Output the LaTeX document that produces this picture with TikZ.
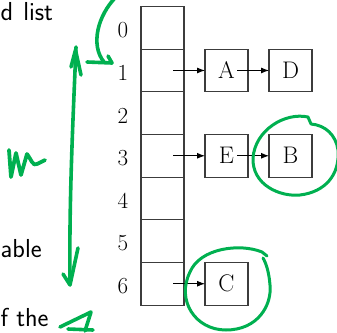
\documentclass[tikz,border=0pt]{standalone}
\usepackage{fontspec}
\usetikzlibrary{arrows.meta}
\definecolor{pen}{RGB}{0,176,80}
\definecolor{edge}{RGB}{60,60,60}
\begin{document}
\begin{tikzpicture}[x=1pt,y=-1pt,
  cell/.style={draw=edge,line width=1.1pt,minimum width=43pt,minimum height=42.65pt,inner sep=0pt,outer sep=0pt},
  item/.style={cell,font=\fontsize{24}{24}\selectfont},
  idx/.style={font=\fontsize{23}{23}\selectfont,inner sep=0pt},
  ptr/.style={line width=0.9pt,-{Latex[length=8pt,width=6pt]}},
  ink/.style={draw=pen,line width=3.6pt,line cap=round,line join=round},
  slide/.style={font=\sffamily\fontsize{26}{26}\selectfont,inner sep=0pt,anchor=base west}]
\useasboundingbox (0,0) rectangle (337,332);
\clip (0,0) rectangle (337,332);
% slide text
\node[slide] (t1) at (0.5,20) {\spaceskip=10pt d list};
\node[slide] (t2) at (0.5,257) {able};
\node[slide] (t3) at (0.5,326) {f the};
% array
\foreach \i in {0,...,6} {
  \node[cell] (c\i) at (162.5,{6.5+42.65*(\i+0.5)}) {};
  \node[idx] (l\i) at (123,{9+42.65*(\i+0.5)}) {\i};
}
\node[item] (A) at (226.5,{6.5+42.65*1.5}) {A};
\node[item] (D) at (290.5,{6.5+42.65*1.5}) {D};
\node[item] (E) at (226.5,{6.5+42.65*3.5}) {E};
\node[item] (B) at (290.5,{6.5+42.65*3.5}) {B};
\node[item] (C) at (226.5,{6.5+42.65*6.5}) {C};
\draw[ptr] ([xshift=-11pt]c1.east) -- (A.west);
\draw[ptr] ([xshift=-11pt]A.east) -- (D.west);
\draw[ptr] ([xshift=-11pt]c3.east) -- (E.west);
\draw[ptr] ([xshift=-11pt]E.east) -- (B.west);
\draw[ptr] ([xshift=-11pt]c6.east) -- (C.west);
% green annotations
\draw[ink] (116,-3) .. controls (98,15) and (90,45) .. (104,62);
\draw[ink] (87,62) -- (112,63);
\draw[ink] (108,56) -- (112,63);
\draw[ink] (76,47) .. controls (73,120) and (69,200) .. (70,284);
\draw[ink] (71,67) -- (75.5,50) -- (81,75);
\draw[ink] (63,274) -- (70,285) -- (78,248);
\draw[ink,line width=3.8pt] (9,150) -- (11,177) -- (16,153) -- (21,175) -- (27,154) .. controls (31,159) and (33,167) .. (37,164) -- (45,160);
\draw[ink] (60,327) -- (91,312) -- (85,331);
\draw[ink] (68,329) -- (93,330);
\draw[ink,line width=3pt] (311,124) -- (308,117) .. controls (285,112) and (255,130) .. (253,158) .. controls (252,185) and (280,197) .. (300,195) .. controls (325,192) and (340,175) .. (338,150) .. controls (336,135) and (325,125) .. (311,124);
\draw[ink,line width=3pt] (267,256) -- (262,252) .. controls (240,243) and (200,248) .. (190,272) .. controls (176,300) and (195,330) .. (226,330) .. controls (258,330) and (272,305) .. (270,285) .. controls (269,272) and (266,263) .. (263,258);
\end{tikzpicture}
\end{document}
